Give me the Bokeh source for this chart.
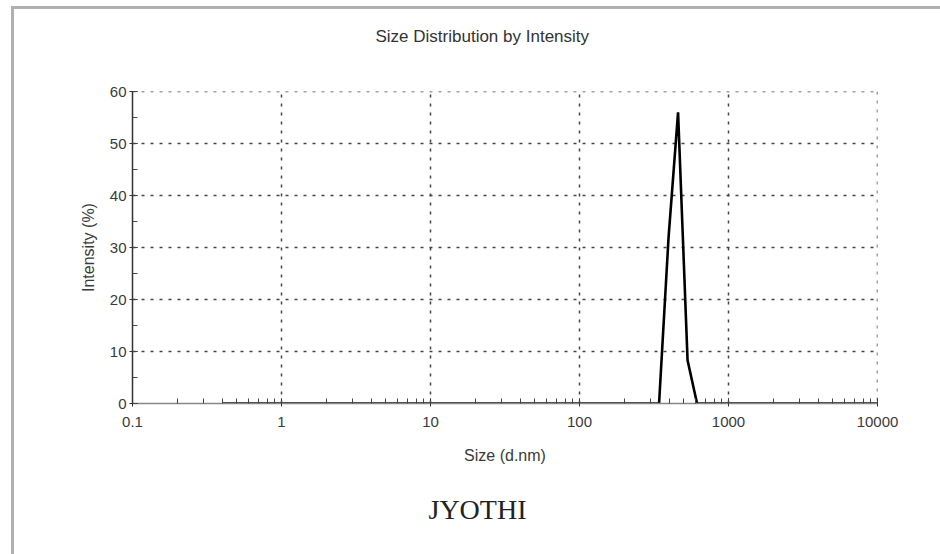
from bokeh.plotting import figure
from bokeh.models import (Range1d, Title, Span, LogTicker,
                          SingleIntervalTicker, CustomJSTickFormatter)
from bokeh.embed import file_html
from bokeh.resources import INLINE

# Size bins (d.nm) and intensity (%)
sizes = [0.4, 0.4632, 0.5365, 0.6213, 0.7195, 0.8332, 0.9649, 1.117, 1.294, 1.499,
         1.736, 2.010, 2.328, 2.696, 3.122, 3.615, 4.187, 4.849, 5.615, 6.503,
         7.531, 8.721, 10.10, 11.70, 13.54, 15.69, 18.17, 21.04, 24.36, 28.21,
         32.67, 37.84, 43.82, 50.75, 58.77, 68.06, 78.82, 91.28, 105.7, 122.4,
         141.8, 164.2, 190.1, 220.2, 255.0, 295.3, 342.0, 396.1, 458.7, 531.2,
         615.1, 712.4, 825.0, 955.4, 1106, 1281, 1484, 1718, 1990, 2305,
         2669, 3091, 3580, 4145, 4801, 5560, 6439, 7456, 8635, 10000]
intensity = [0, 0, 0, 0, 0, 0, 0, 0, 0, 0,
             0, 0, 0, 0, 0, 0, 0, 0, 0, 0,
             0, 0, 0, 0, 0, 0, 0, 0, 0, 0,
             0, 0, 0, 0, 0, 0, 0, 0, 0, 0,
             0, 0, 0, 0, 0, 0, 0, 32, 56, 8.3,
             0, 0, 0, 0, 0, 0, 0, 0, 0, 0,
             0, 0, 0, 0, 0, 0, 0, 0, 0, 0]

x_min, x_max = 0.1, 10000
y_min, y_max = 0, 60

title_text = "Size Distribution by Intensity"
x_label = "Size (d.nm)"
y_label = "Intensity (%)"
sample_name = "JYOTHI"

FONT = "Liberation Sans"
GRID_COLOR = "#444444"
GRID_DASH = "3 6"
GRID_WIDTH = 1.5
FRAME_GRAY = "#b0b0b0"

p = figure(width=940, height=554, x_axis_type="log", title=None,
           x_range=Range1d(x_min, x_max), y_range=Range1d(y_min, y_max),
           output_backend="svg", toolbar_location=None,
           min_border_left=132, min_border_right=63,
           min_border_top=91, min_border_bottom=151)
p.outline_line_color = None
p.background_fill_color = "white"
p.border_fill_color = None
# page frame: gray line along the top and down the left side
p.styles = {
    "background-color": "white",
    "background-image": (
        f"conic-gradient(from 90deg at 3px 3px, transparent 0 25%, {FRAME_GRAY} 25% 100%)"
    ),
    "background-position": "11px 6px",
    "background-size": "929px 548px",
    "background-repeat": "no-repeat",
}

p.line(sizes, intensity, line_color="black", line_width=2.6)

# axes
p.xaxis.ticker = LogTicker(num_minor_ticks=10)
p.xaxis.formatter = CustomJSTickFormatter(code="return Number(tick.toPrecision(6)).toString();")
p.yaxis.ticker = SingleIntervalTicker(interval=10, num_minor_ticks=2)

for ax in (p.xaxis[0], p.yaxis[0]):
    ax.major_tick_in = 5
    ax.major_tick_out = 3
    ax.minor_tick_in = 5
    ax.minor_tick_out = 0
    ax.major_tick_line_color = "#333333"
    ax.minor_tick_line_color = "#444444"
    ax.major_label_text_font = FONT
    ax.major_label_text_font_size = "15px"
    ax.major_label_text_color = "#3a3a3a"
    ax.axis_label_text_font = FONT
    ax.axis_label_text_font_size = "16px"
    ax.axis_label_text_color = "#3a3a3a"
    ax.axis_label_text_font_style = "normal"

p.yaxis.axis_line_color = "#333333"
p.yaxis.axis_line_width = 1.5
p.xaxis.axis_line_color = "#888888"
p.xaxis.axis_line_width = 1.5
p.xaxis.major_label_standoff = 10
p.yaxis.major_label_standoff = 3
p.xaxis.axis_label = x_label
p.yaxis.axis_label = y_label
p.xaxis.axis_label_standoff = 17
p.yaxis.axis_label_standoff = 10

for g in (p.xgrid[0], p.ygrid[0]):
    g.grid_line_color = GRID_COLOR
    g.grid_line_width = GRID_WIDTH
    g.grid_line_dash = GRID_DASH

# dotted closing lines on top and right of the plot box
p.add_layout(Span(location=y_max, dimension="width", line_color=GRID_COLOR,
                  line_width=GRID_WIDTH, line_dash=GRID_DASH))
p.add_layout(Span(location=x_max, dimension="height", line_color=GRID_COLOR,
                  line_width=GRID_WIDTH, line_dash=GRID_DASH))

# spacer between frame and the chart title, then the title itself
p.add_layout(Title(text=" ", standoff=20, text_font=FONT, text_font_size="17px"), "above")
p.add_layout(Title(text=title_text, align="left", offset=243, standoff=10,
                   text_font=FONT, text_font_size="17px", text_color="#333333",
                   text_font_style="normal"), "above")
p.add_layout(Title(text=sample_name, align="left", offset=296, standoff=50,
                   text_font="Liberation Serif", text_font_size="28px",
                   text_color="#222222", text_font_style="normal"), "below")

open("out.html", "w").write(file_html(p, INLINE))
